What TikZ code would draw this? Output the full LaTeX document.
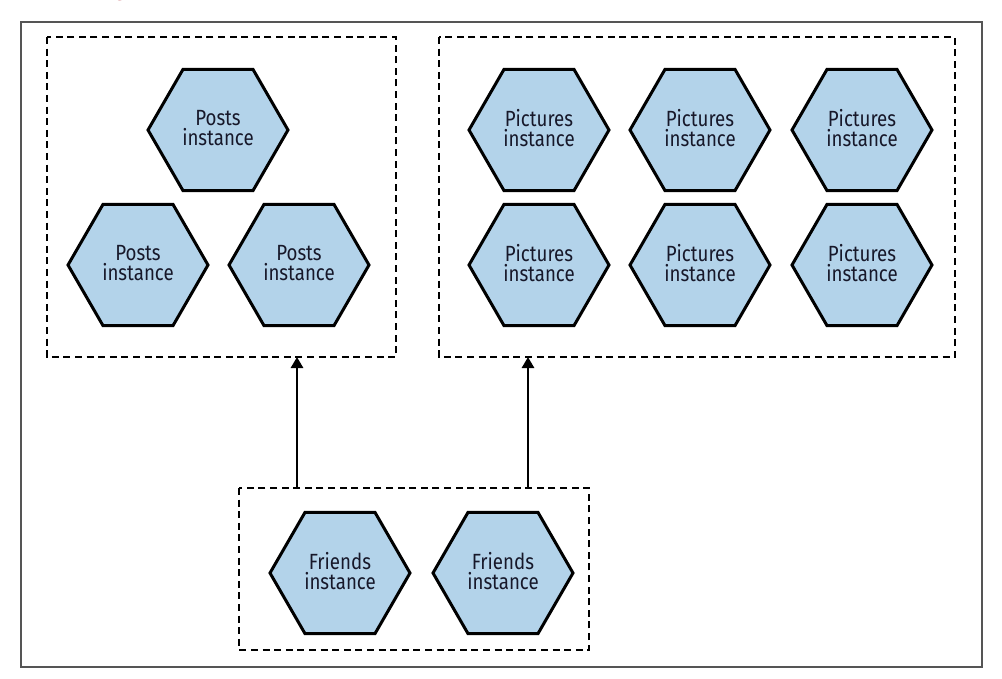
\documentclass[tikz,border=0pt]{standalone}
\usepackage{fontspec}
\setmainfont{Fira Sans}[FakeStretch=0.85]
\usetikzlibrary{shapes.geometric,arrows.meta}
\definecolor{hexfill}{HTML}{B3D3EA}
\definecolor{hextext}{HTML}{17182A}
\definecolor{framegray}{HTML}{555555}
\definecolor{capred}{HTML}{B0202A}
\tikzset{
  hexnode/.style={regular polygon, regular polygon sides=6, minimum size=140pt,
    inner sep=0pt, draw=black, line width=3pt, fill=hexfill, text=hextext,
    align=center, text depth=5pt, font=\fontsize{22}{20}\selectfont},
  groupbox/.style={draw=black, line width=2.8pt, dash pattern=on 7pt off 4.6pt},
  uparrow/.style={line width=2.8pt, -{Triangle[width=12pt,length=11pt]}},
  outerframe/.style={draw=framegray, line width=1.3pt}
}
\begin{document}
\begin{tikzpicture}[x=1pt,y=-1pt]
\useasboundingbox (0,0) rectangle (1002,679);
\fill[white] (0,0) rectangle (1002,679);
% clipped caption fragment
\node[text=capred, font=\fontsize{20}{20}\selectfont, anchor=base] (capfrag) at (120,-3.5) {g};
% outer frame
\draw[outerframe] (21,22) rectangle (982,667);
% group boxes
\draw[groupbox] (47,37) rectangle (396,357);
\draw[groupbox] (439,37) rectangle (955,357);
\draw[groupbox] (239,488) rectangle (589,650);
\coordinate (postsbottom) at (297,357);
\coordinate (picsbottom) at (528,357);
\coordinate (friendstopA) at (297,488);
\coordinate (friendstopB) at (528,488);
% posts
\node[hexnode] (p1) at (218,130) {Posts\\instance};
\node[hexnode] (p2) at (138,265) {Posts\\instance};
\node[hexnode] (p3) at (299,265) {Posts\\instance};
% pictures
\node[hexnode] (q1) at (539,130) {Pictures\\instance};
\node[hexnode] (q2) at (700,130) {Pictures\\instance};
\node[hexnode] (q3) at (862,130) {Pictures\\instance};
\node[hexnode] (q4) at (539,265) {Pictures\\instance};
\node[hexnode] (q5) at (700,265) {Pictures\\instance};
\node[hexnode] (q6) at (862,265) {Pictures\\instance};
% friends
\node[hexnode] (f1) at (340,573) {Friends\\instance};
\node[hexnode] (f2) at (503,573) {Friends\\instance};
% arrows
\draw[uparrow] (friendstopA) -- (postsbottom);
\draw[uparrow] (friendstopB) -- (picsbottom);
\end{tikzpicture}
\end{document}
